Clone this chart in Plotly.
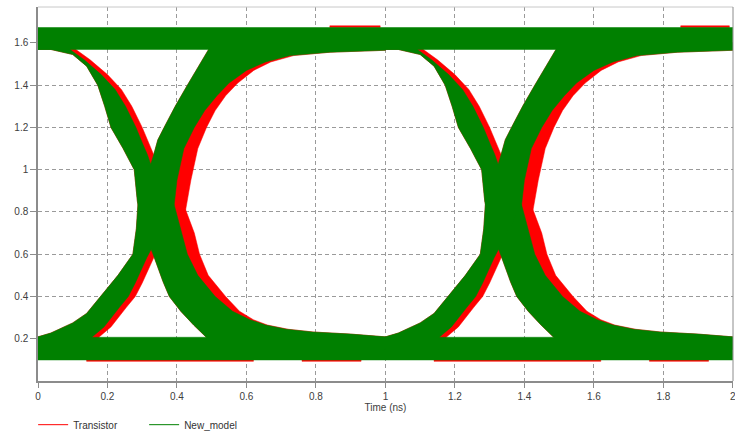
import numpy as np
import plotly.graph_objects as go

# ---------------- data ----------------
# Eye diagram, unit interval = 1 ns, two UIs shown.
ui_offsets = [0.0, 1.0]

# Rails (volts): [low, high]
top_rail_new = [1.569, 1.673]
bot_rail_new = [0.0995, 0.207]
# thin transistor-only slivers outside the green rails (t ranges, ns)
trans_top_extra_v = [1.673, 1.681]
trans_top_extra_t = [[0.84, 0.985], [1.85, 1.99]]
trans_bot_extra_v = [0.093, 0.0995]
trans_bot_extra_t = [[0.14, 0.62], [0.76, 0.93], [1.14, 1.62], [1.76, 1.93]]

# New_model envelope boundaries within one UI (t in ns, v in volts)
# falling edge, left boundary (top -> bottom)
fl_t = [0.000, 0.000, 0.037, 0.100, 0.140, 0.172, 0.192, 0.210, 0.245, 0.277, 0.286, 0.310, 0.335, 0.360, 0.378, 0.411, 0.448, 0.483, 0.520]
fl_v = [1.600, 1.569, 1.569, 1.545, 1.490, 1.400, 1.300, 1.200, 1.100, 1.000, 0.850, 0.690, 0.583, 0.470, 0.400, 0.330, 0.265, 0.207, 0.150]
# falling edge, right boundary (top -> bottom)
fr_t = [0.092, 0.092, 0.133, 0.182, 0.222, 0.252, 0.282, 0.302, 0.315, 0.340, 0.392, 0.410, 0.430, 0.460, 0.510, 0.560, 0.610, 0.655, 0.715, 0.790, 0.850, 0.900, 1.000, 1.000]
fr_v = [1.600, 1.569, 1.520, 1.450, 1.380, 1.300, 1.200, 1.120, 1.071, 0.950, 0.834, 0.720, 0.600, 0.500, 0.400, 0.330, 0.290, 0.265, 0.245, 0.232, 0.226, 0.222, 0.209, 0.150]
# rising edge, left boundary (bottom -> top)
rl_t = [0.000, 0.000, 0.037, 0.100, 0.140, 0.181, 0.230, 0.273, 0.283, 0.288, 0.310, 0.333, 0.345, 0.363, 0.395, 0.430, 0.460, 0.480, 0.491, 0.500]
rl_v = [0.150, 0.209, 0.227, 0.275, 0.320, 0.400, 0.500, 0.600, 0.720, 0.845, 0.950, 1.071, 1.142, 1.200, 1.300, 1.400, 1.480, 1.536, 1.569, 1.600]
# rising edge, right boundary (bottom -> top)
rr_t = [0.155, 0.155, 0.190, 0.235, 0.260, 0.280, 0.313, 0.350, 0.392, 0.400, 0.420, 0.450, 0.480, 0.515, 0.550, 0.600, 0.655, 0.725, 0.840, 1.000, 1.000]
rr_v = [0.150, 0.207, 0.256, 0.350, 0.400, 0.464, 0.583, 0.700, 0.834, 0.950, 1.100, 1.200, 1.280, 1.350, 1.410, 1.470, 1.510, 1.540, 1.556, 1.565, 1.600]

# Transistor: right-hand boundaries (visible red edges); left-hand edges coincide with New_model
tr_fr_t = [0.109, 0.109, 0.150, 0.200, 0.240, 0.270, 0.300, 0.320, 0.333, 0.370, 0.425, 0.450, 0.465, 0.490, 0.540, 0.580, 0.620, 0.660, 0.720, 0.793, 0.850, 0.900, 1.000, 1.000]
tr_fr_v = [1.600, 1.569, 1.520, 1.450, 1.380, 1.300, 1.200, 1.120, 1.071, 0.950, 0.810, 0.700, 0.600, 0.500, 0.400, 0.330, 0.290, 0.265, 0.245, 0.232, 0.226, 0.222, 0.209, 0.150]
tr_rr_t = [0.175, 0.175, 0.210, 0.255, 0.280, 0.300, 0.333, 0.370, 0.425, 0.440, 0.460, 0.485, 0.510, 0.540, 0.575, 0.621, 0.670, 0.736, 0.842, 1.000, 1.000]
tr_rr_v = [0.150, 0.207, 0.256, 0.350, 0.400, 0.464, 0.583, 0.700, 0.810, 0.950, 1.100, 1.200, 1.280, 1.350, 1.410, 1.470, 1.510, 1.540, 1.556, 1.565, 1.600]

x_ticks = [0, 0.2, 0.4, 0.6, 0.8, 1, 1.2, 1.4, 1.6, 1.8, 2]
x_ticktext = ["0", "0.2", "0.4", "0.6", "0.8", "1", "1.2", "1.4", "1.6", "1.8", "2"]
y_ticks = [0.2, 0.4, 0.6, 0.8, 1.0, 1.2, 1.4, 1.6]
y_ticktext = ["0.2", "0.4", "0.6", "0.8", "1", "1.2", "1.4", "1.6"]

series_names = ["Transistor", "New_model"]
series_colors = ["#ff0000", "#008000"]

# ---------------- build figure ----------------
fig = go.Figure()


def band(left_t, left_v, right_t, right_v, off):
    xs = np.concatenate([np.array(left_t) + off, (np.array(right_t) + off)[::-1]])
    ys = np.concatenate([np.array(left_v), np.array(right_v)[::-1]])
    return xs, ys


def poly(xs, ys, color, group):
    fig.add_trace(go.Scatter(x=list(xs) + [xs[0]], y=list(ys) + [ys[0]], mode="lines",
                             fill="toself", fillcolor=color,
                             line=dict(color=color, width=0.5),
                             hoverinfo="skip", showlegend=False, legendgroup=group))


def rect(t0, t1, v0, v1, color, group):
    poly([t0, t1, t1, t0], [v0, v0, v1, v1], color, group)


red, green = series_colors

# Transistor (drawn underneath)
for t0, t1 in trans_top_extra_t:
    rect(t0, t1, trans_top_extra_v[0], trans_top_extra_v[1], red, "tr")
for t0, t1 in trans_bot_extra_t:
    rect(t0, t1, trans_bot_extra_v[0], trans_bot_extra_v[1], red, "tr")
for off in ui_offsets:
    xs, ys = band(fl_t, fl_v, tr_fr_t, tr_fr_v, off)
    poly(xs, ys, red, "tr")
    xs, ys = band(rl_t, rl_v, tr_rr_t, tr_rr_v, off)
    poly(xs, ys, red, "tr")

# New_model (on top)
rect(0, 2, top_rail_new[0], top_rail_new[1], green, "nm")
rect(0, 2, bot_rail_new[0], bot_rail_new[1], green, "nm")
for off in ui_offsets:
    xs, ys = band(fl_t, fl_v, fr_t, fr_v, off)
    poly(xs, ys, green, "nm")
    xs, ys = band(rl_t, rl_v, rr_t, rr_v, off)
    poly(xs, ys, green, "nm")

# legend entries
for name, col, grp in zip(series_names, series_colors, ["tr", "nm"]):
    fig.add_trace(go.Scatter(x=[None], y=[None], mode="lines", name=name,
                             line=dict(color=col, width=1), legendgroup=grp))

font_family = "Liberation Sans, Arial, sans-serif"
grid_col = "#9a9a9a"
axis_col = "#8c8c8c"

fig.update_layout(
    width=735, height=431,
    margin=dict(l=38, r=2, t=7, b=50, autoexpand=False),
    plot_bgcolor="white", paper_bgcolor="white",
    font=dict(family=font_family, size=10, color="#404040"),
    showlegend=True,
    legend=dict(orientation="h", x=-0.007, xanchor="left", y=-0.078, yanchor="top",
                font=dict(size=10, color="#333333"), entrywidth=66, entrywidthmode="pixels",
                bgcolor="rgba(0,0,0,0)", itemclick=False, tracegroupgap=0),
)
fig.update_xaxes(
    range=[0, 2.0005], tickvals=x_ticks, ticktext=x_ticktext,
    showgrid=True, gridcolor=grid_col, griddash="4px,3px", gridwidth=1,
    zeroline=False, showline=True, linecolor=axis_col, linewidth=1.5,
    ticks="outside", ticklen=5, tickcolor=axis_col, automargin=False,
    ticklabeloverflow="allow",
    tickfont=dict(size=10, color="#404040"),
    title=dict(text="Time (ns)", font=dict(size=10, color="#404040"), standoff=2),
)
fig.update_yaxes(
    range=[0, 1.77], tickvals=y_ticks, ticktext=y_ticktext,
    showgrid=True, gridcolor=grid_col, griddash="4px,3px", gridwidth=1,
    zeroline=False, showline=True, linecolor=axis_col, linewidth=1.5,
    ticks="outside", ticklen=6, tickcolor=axis_col, automargin=False,
    tickfont=dict(size=10, color="#404040"),
)
fig.add_shape(type="line", xref="paper", yref="paper", x0=0, x1=1, y0=1, y1=1,
              line=dict(color="#c8c8c8", width=1))
fig.add_shape(type="line", xref="paper", yref="paper", x0=1, x1=1, y0=0, y1=1,
              line=dict(color=axis_col, width=1))

fig.write_html("out.html")
